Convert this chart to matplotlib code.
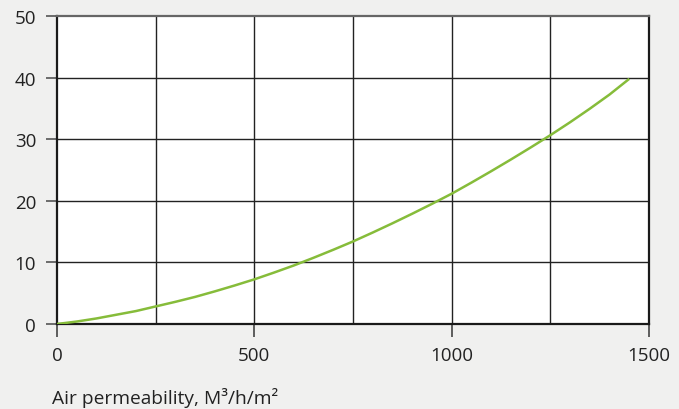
import matplotlib
matplotlib.use('Agg')
import matplotlib.pyplot as plt

# air permeability (m3/h/m2) vs value
permeability = [0, 50, 100, 150, 200, 250, 300, 350, 400, 450, 500, 550, 600,
                650, 700, 750, 800, 850, 900, 950, 1000, 1050, 1100, 1150,
                1200, 1250, 1300, 1350, 1400, 1450]
values = [0, 0.4, 0.9, 1.5, 2.1, 2.85, 3.6, 4.4, 5.3, 6.25, 7.25, 8.35, 9.5,
          10.75, 12.05, 13.4, 14.85, 16.35, 17.9, 19.5, 21.15, 22.95, 24.8,
          26.7, 28.65, 30.65, 32.75, 34.95, 37.25, 39.8]

x_grid = [250, 500, 750, 1000, 1250]
y_ticks = [0, 10, 20, 30, 40, 50]
x_ticks = [0, 500, 1000, 1500]

BG = '#f0f0ef'
GREEN = '#86bc3a'

plt.rcParams['font.family'] = ['Open Sans', 'DejaVu Sans']

fig = plt.figure(figsize=(6.79, 4.10), dpi=100, facecolor=BG)
ax = fig.add_axes([57 / 679, 1 - 325 / 410, 592 / 679, 308 / 410])
ax.set_facecolor('white')

# grid
for gx in x_grid:
    ax.axvline(gx, color='#222222', lw=1.0, zorder=1)
for gy in y_ticks[1:-1]:
    ax.axhline(gy, color='#222222', lw=1.0, zorder=1)

ax.plot(permeability, values, color=GREEN, lw=1.8, zorder=3,
        solid_capstyle='butt')

ax.set_xlim(0, 1500)
ax.set_ylim(0, 50)
ax.set_xticks(x_ticks)
ax.set_yticks(y_ticks)
ax.tick_params(axis='x', length=9, width=1.2, color='#444444', pad=7,
               labelsize=13.5, labelcolor='#222222')
ax.tick_params(axis='y', length=8, width=1.2, color='#555555', pad=7,
               labelsize=13.5, labelcolor='#222222')

for side in ('left', 'bottom', 'right'):
    ax.spines[side].set_color('#1a1a1a')
    ax.spines[side].set_linewidth(1.6)
ax.spines['top'].set_color('#666666')
ax.spines['top'].set_linewidth(1.6)

fig.text(52 / 679, 1 - 398 / 410, 'Air permeability, M³/h/m²',
         fontsize=13.8, color='#222222', ha='left', va='center')

fig.savefig('out.png', dpi=100, facecolor=BG)
